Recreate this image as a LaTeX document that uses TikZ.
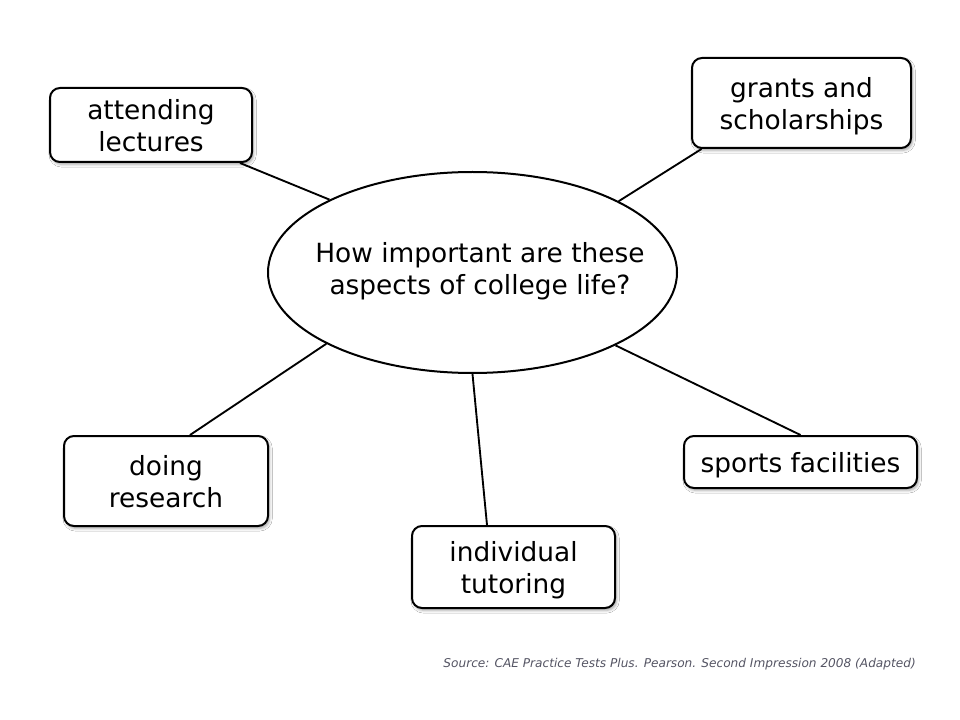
\documentclass[tikz,border=0pt]{standalone}
\usepackage{fontspec}
\setmainfont{DejaVu Sans}
\usetikzlibrary{shapes.geometric,shadows.blur,calc}
\definecolor{srcgray}{RGB}{85,85,100}
\tikzset{
  box/.style={draw=black, line width=1.5pt, fill=white, rounded corners=7.5pt,
    align=center, inner sep=0pt, font=\fontsize{19.8}{24}\selectfont,
    text depth=0pt, blur shadow={shadow xshift=1.2pt, shadow yshift=-1.8pt, shadow blur radius=2pt, shadow opacity=35}},
  conn/.style={line width=1.4pt, draw=black},
}
\begin{document}
\begin{tikzpicture}[x=0.75pt,y=-0.75pt]
\useasboundingbox (0,0) rectangle (960,720);
\fill[white] (0,0) rectangle (960,720);
% central ellipse
\node[ellipse, draw=black, line width=1.5pt, fill=white, inner sep=0pt,
      minimum width=306.75pt, minimum height=150.75pt] (c) at (472.5,272.5) {};
\node[align=center, font=\fontsize{19.8}{24}\selectfont] (ct) at (480,271.5)
  {How important are these\\aspects of college life?};
% boxes
\node[box, minimum width=151.5pt, minimum height=55.5pt] (a) at (151,125) {attending\\lectures};
\node[box, minimum width=164.25pt, minimum height=67.5pt] (g) at (801.5,103) {grants and\\scholarships};
\node[box, minimum width=153pt, minimum height=67.5pt] (d) at (166,481) {doing\\research};
\node[box, minimum width=174.75pt, minimum height=39pt] (s) at (800.5,462) {sports facilities};
\node[box, minimum width=152.25pt, minimum height=61.5pt] (t) at (513.5,567) {individual\\tutoring};
% connectors
\coordinate (a1) at ($(a.south)+(89,0)$);
\coordinate (g1) at ($(g.south)+(-100,0)$);
\coordinate (d1) at ($(d.north)+(24,0)$);
\coordinate (t1) at ($(t.north)+(-26.5,0)$);
\coordinate (s1) at ($(s.north)+(0,0)$);
\draw[conn] (a1) -- (c.153.7);
\draw[conn] (g1) -- (c.26.6);
\draw[conn] (d1) -- (c.206.96);
\draw[conn] (t1) -- (c.270);
\draw[conn] (s1) -- (c.333.5);
% source
\node[anchor=east, inner sep=0pt, text=srcgray, font=\fontsize{9.1}{11}\selectfont\itshape] (src) at (916,664)
  {Source: CAE Practice Tests Plus. Pearson. Second Impression 2008 (Adapted)};
\end{tikzpicture}
\end{document}
